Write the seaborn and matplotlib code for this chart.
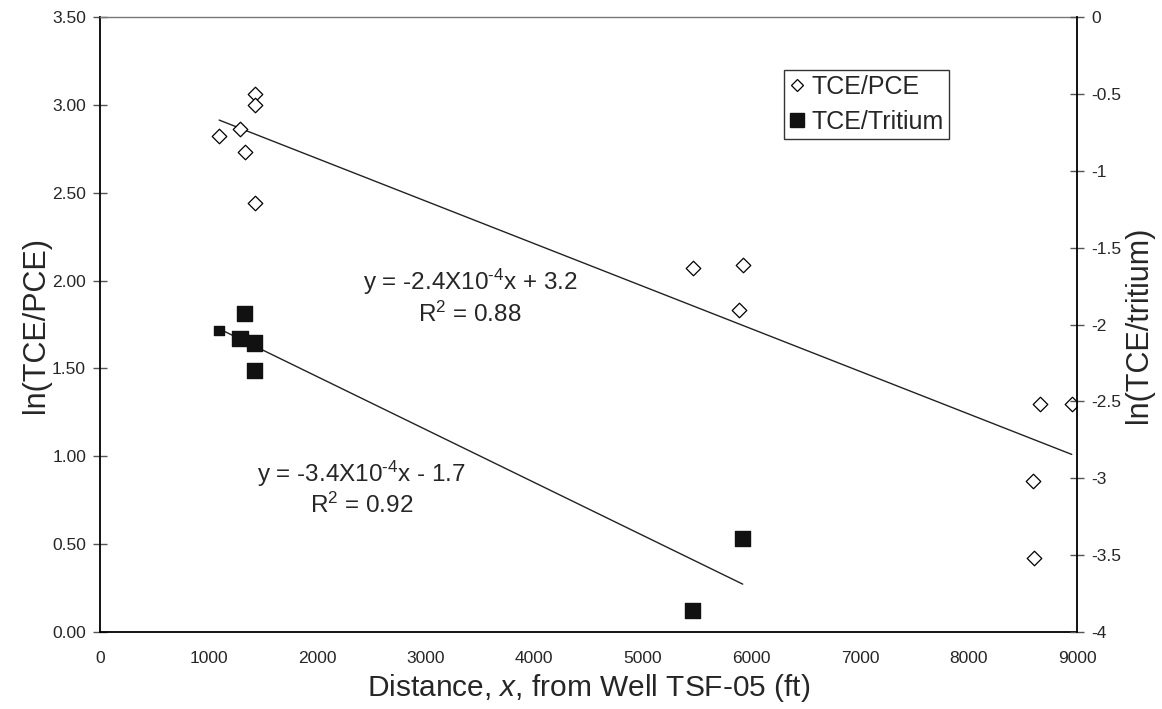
import numpy as np
import pandas as pd
import matplotlib.pyplot as plt
import seaborn as sns
from matplotlib.lines import Line2D

# --- Data ---
pce_x = [1098, 1292, 1337, 1424, 1424, 1424, 5460, 5885, 5920, 8591, 8600, 8656, 8950]
pce_y = [2.82, 2.86, 2.73, 3.06, 3.00, 2.44, 2.07, 1.83, 2.09, 0.86, 0.42, 1.30, 1.30]

tri_x = [1096, 1289, 1335, 1424, 1424, 5460, 5920]
tri_y = [-2.04, -2.09, -1.93, -2.12, -2.30, -3.86, -3.39]

eq_pce = ['y = -2.4X10$^{\\text{-4}}$x + 3.2', 'R$^2$ = 0.88']
eq_tri = ['y = -3.4X10$^{\\text{-4}}$x - 1.7', 'R$^2$ = 0.92']

left_ticks = np.arange(0, 3.51, 0.5)
right_ticks = np.arange(-4, 0.01, 0.5)

df_pce = pd.DataFrame({'x': pce_x, 'y': pce_y})
df_tri = pd.DataFrame({'x': tri_x, 'y': tri_y})

# --- Setup ---
sns.set_style("white")
plt.rcParams['font.family'] = ['Liberation Sans', 'DejaVu Sans']
plt.rcParams['mathtext.fontset'] = 'custom'
plt.rcParams['mathtext.rm'] = 'Liberation Sans'
plt.rcParams['mathtext.it'] = 'Liberation Sans:italic'

fig = plt.figure(figsize=(11.62, 7.09), dpi=100)
ax = fig.add_axes([0.086, 0.1086, 0.841, 0.8674])
ax2 = ax.twinx()

# TCE/PCE on left axis
sns.regplot(data=df_pce, x='x', y='y', ax=ax, scatter=False, ci=None, truncate=True,
            line_kws={'color': '#222222', 'lw': 1})
sns.scatterplot(data=df_pce, x='x', y='y', ax=ax, marker='D', s=55,
                facecolor='white', edgecolor='black', linewidth=0.9, zorder=3)

# TCE/Tritium on right axis
sns.regplot(data=df_tri, x='x', y='y', ax=ax2, scatter=False, ci=None, truncate=True,
            line_kws={'color': '#222222', 'lw': 1})
tri_sizes = [45, 120, 120, 120, 120, 120, 120]
ax2.scatter(df_tri['x'], df_tri['y'], marker='s', s=tri_sizes, color='#111111', zorder=3)

# axes limits / ticks
ax.set_xlim(0, 9000)
ax.set_ylim(0, 3.5)
ax.set_xticks(np.arange(0, 9001, 1000))
ax.set_yticks(left_ticks)
ax.set_yticklabels([f'{v:.2f}' for v in left_ticks])
ax2.set_ylim(-4, 0)
ax2.set_yticks(right_ticks)
ax2.set_yticklabels([f'{v:g}' for v in right_ticks])

for a in (ax, ax2):
    a.tick_params(direction='inout', length=10, width=1, color='#555555', labelsize=12.5)
ax.tick_params(axis='x', pad=9)
ax.tick_params(axis='y', pad=5)
ax2.tick_params(axis='y', pad=5)

for s in ('left', 'bottom'):
    ax.spines[s].set_color('black')
    ax.spines[s].set_linewidth(1.3)
ax2.spines['right'].set_color('black')
ax2.spines['right'].set_linewidth(1.3)
ax.spines['top'].set_color('#777777')
ax.spines['top'].set_linewidth(1)
ax2.spines['top'].set_visible(False)
ax.spines['right'].set_visible(False)
ax2.spines['left'].set_visible(False)
ax2.spines['bottom'].set_visible(False)

ax.set_xlabel('Distance, $\\mathit{x}$, from Well TSF-05 (ft)', fontsize=21.5, labelpad=4)
ax.set_ylabel('ln(TCE/PCE)', fontsize=22, labelpad=1)
ax2.set_ylabel('ln(TCE/tritium)', fontsize=22, labelpad=2)

# equations
ax.text(3410, 1.99, eq_pce[0], fontsize=17.5, ha='center', va='center')
ax.text(3410, 1.81, eq_pce[1], fontsize=17.5, ha='center', va='center')
ax.text(2410, 0.90, eq_tri[0], fontsize=17.5, ha='center', va='center')
ax.text(2410, 0.72, eq_tri[1], fontsize=17.5, ha='center', va='center')

# legend
handles = [Line2D([], [], marker='D', ls='', ms=6.5, mfc='white', mec='black', mew=0.9),
           Line2D([], [], marker='s', ls='', ms=10, mfc='#111111', mec='#111111')]
leg = ax.legend(handles, ['TCE/PCE', 'TCE/Tritium'], loc='upper left',
                bbox_to_anchor=(0.70, 0.914), fontsize=18, frameon=True, fancybox=False,
                handlelength=0.6, handletextpad=0.3, borderpad=0.2, labelspacing=0.45,
                borderaxespad=0)
leg.get_frame().set_edgecolor('black')
leg.get_frame().set_linewidth(1)

plt.savefig('out.png', dpi=100)
